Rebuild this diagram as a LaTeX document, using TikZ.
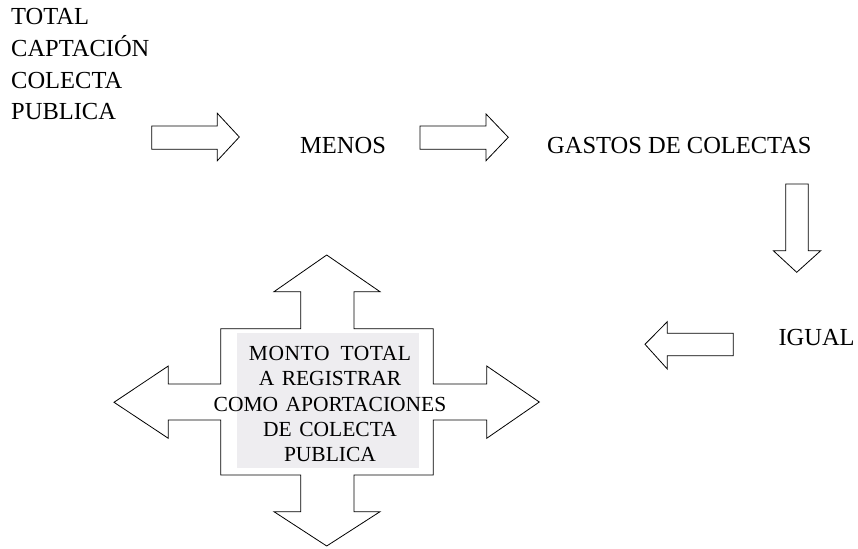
\documentclass[tikz,border=0pt]{standalone}
\usepackage{fontspec}
\setmainfont{Liberation Serif}
\definecolor{boxgray}{RGB}{238,237,240}
\newcommand{\myboxfont}{\fontsize{21.5}{25.2}\selectfont\spaceskip=7.5pt\relax}
\begin{document}
\begin{tikzpicture}[x=1pt,y=-1pt,
  lbl/.style={inner sep=0pt, font=\fontsize{24.5}{31.7}\selectfont},
  boxtxt/.style={inner sep=0pt, align=center, font=\myboxfont},
  blockarrow/.style={draw=black, line width=0.8pt, line join=miter, fill=white}]
\useasboundingbox (0,0) rectangle (858,548);

% texts
\node[lbl, align=left, anchor=north west] (total) at (11,8.3) {TOTAL\\CAPTACIÓN\\COLECTA\\PUBLICA};
\node[lbl, anchor=base west] (menos) at (300,153.3) {MENOS};
\node[lbl, anchor=base west] (gastos) at (547,153.3) {GASTOS DE COLECTAS};
\node[lbl, anchor=base west] (igual) at (778.3,345) {IGUAL};

% block arrows
\draw[blockarrow] (151.7,126) -- (217.3,126) -- (217.3,113.3) -- (239.3,137) -- (217.3,160.7) -- (217.3,149.3) -- (151.7,149.3) -- cycle;
\draw[blockarrow] (420,126) -- (486,126) -- (486,114) -- (508.3,137.3) -- (486,160.7) -- (486,149.3) -- (420,149.3) -- cycle;
\draw[blockarrow] (785.7,184) -- (808.3,184) -- (808.3,250.7) -- (820.7,250.7) -- (796.7,272.3) -- (773.3,250.7) -- (785.7,250.7) -- cycle;
\draw[blockarrow] (733.3,333.3) -- (733.3,355.7) -- (667.3,355.7) -- (667.3,369) -- (645,344.3) -- (667.3,321.7) -- (667.3,333.3) -- cycle;

% four-way cross arrow
\draw[blockarrow] (326.7,255) -- (380,291.7) -- (354,291.7) -- (354,328.7) -- (433.3,328.7) -- (433.3,384) -- (486.7,384) -- (486.7,366) -- (539.3,402) -- (486.7,438.3) -- (486.7,420) -- (433.3,420) -- (433.3,475) -- (354,475) -- (354,511.7) -- (380,511.7) -- (326.7,546) -- (274,511.7) -- (300.7,511.7) -- (300.7,475) -- (220.7,475) -- (220.7,420) -- (168.3,420) -- (168.3,438.3) -- (114,402.3) -- (168.3,366) -- (168.3,384) -- (220.7,384) -- (220.7,328.7) -- (300.7,328.7) -- (300.7,291.7) -- (274,291.7) -- cycle;
\fill[boxgray] (236.7,332.7) rectangle (419.3,467.7);
\node[boxtxt] (monto) at (330,404) {{\addfontfeature{LetterSpace=2.5}MONTO\hspace{11pt}TOTAL}\\A REGISTRAR\\COMO APORTACIONES\\DE COLECTA\\PUBLICA};
\end{tikzpicture}
\end{document}
